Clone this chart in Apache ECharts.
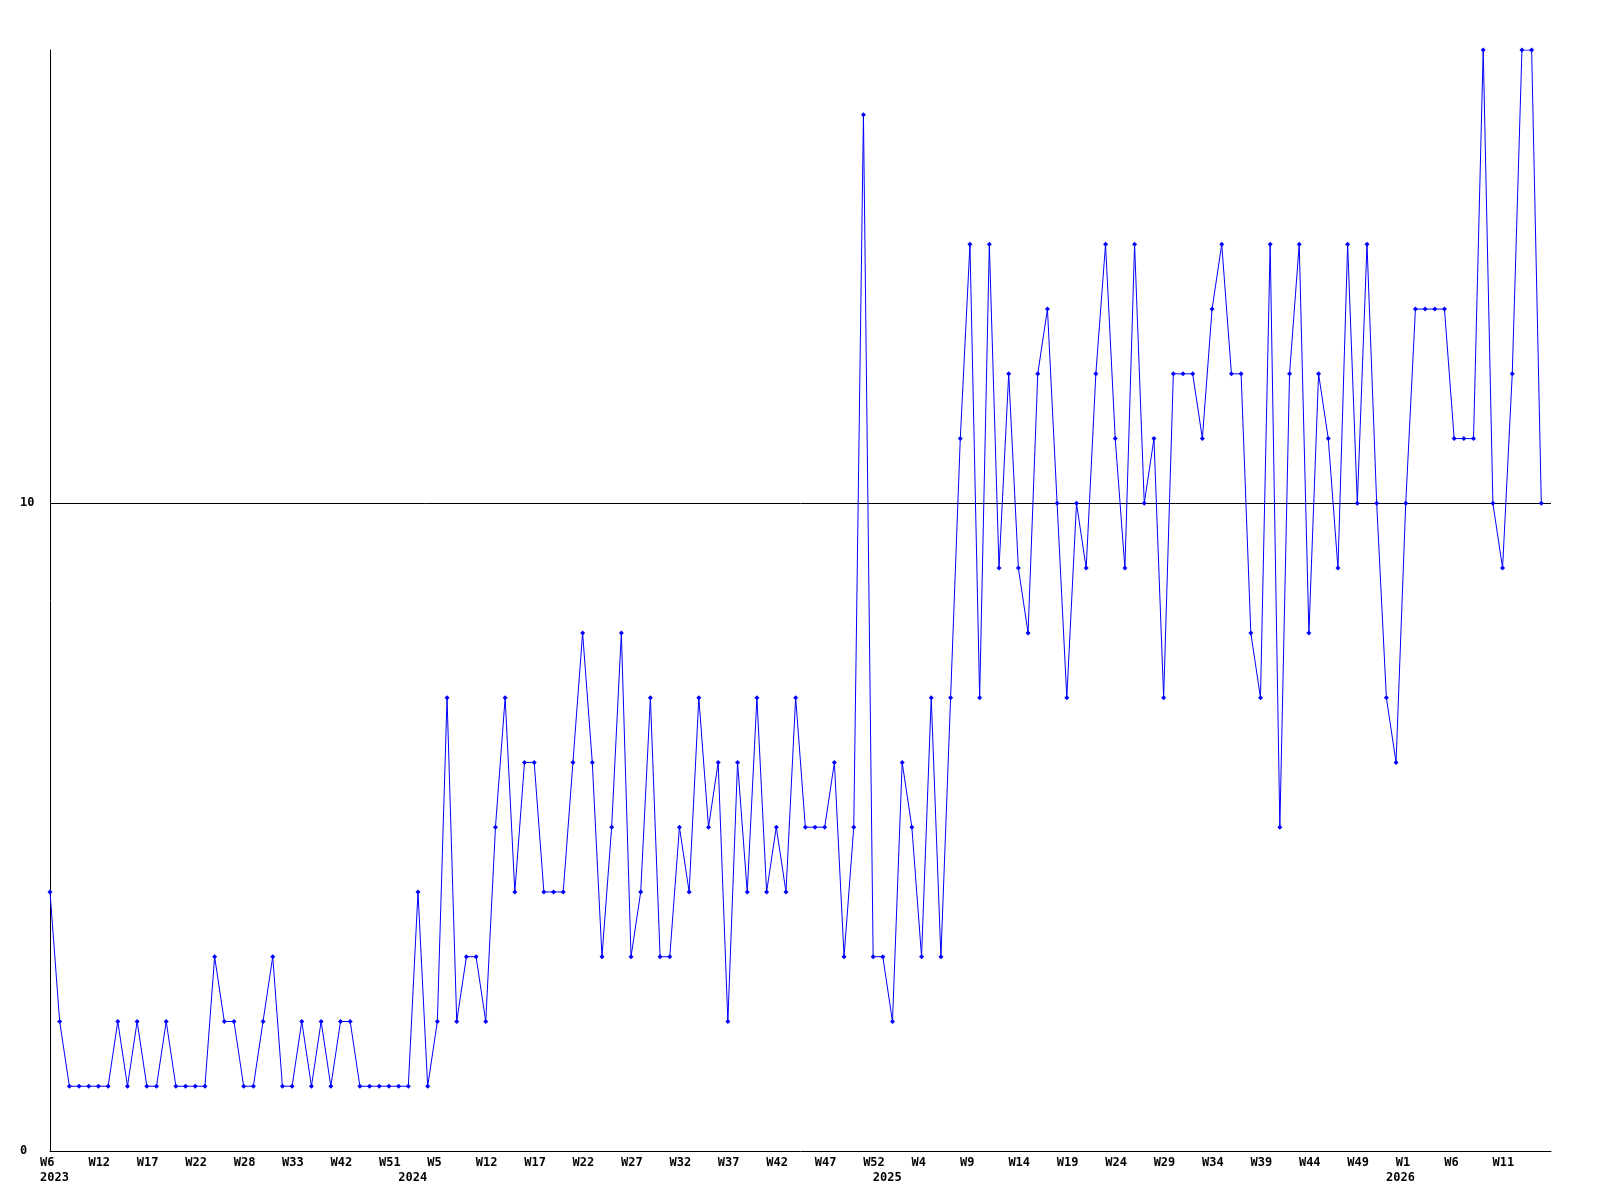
<!DOCTYPE html>
<html>
<head>
<meta charset="utf-8">
<script src="https://cdn.jsdelivr.net/npm/echarts@6/dist/echarts.min.js"></script>
<style>
  html, body { margin: 0; padding: 0; background: #ffffff; }
  #chart { width: 1600px; height: 1200px; }
</style>
</head>
<body>
<div id="chart"></div>
<script>
// Week label of each data point (one point per week, in order)
const weeks = [
  // 2023
  'W6','W7','W8','W9','W10','W12','W13','W14','W15','W16',
  'W17','W18','W19','W20','W21','W22','W23','W24','W25','W26',
  'W28','W29','W30','W31','W32','W33','W35','W37','W38','W40',
  'W42','W44','W46','W47','W49','W51','W52',
  // 2024
  'W0','W2','W3','W5','W7','W8','W9','W11','W12',
  'W13','W14','W15','W16','W17','W18','W19','W20','W21','W22',
  'W23','W24','W25','W26','W27','W28','W29','W30','W31','W32',
  'W33','W34','W35','W36','W37','W38','W39','W40','W41','W42',
  'W43','W44','W45','W46','W47','W48','W49','W50','W51','W52',
  // 2025
  'W0','W1','W2','W3','W4','W5','W6','W7','W8','W9',
  'W10','W11','W12','W13','W14','W15','W16','W17','W18','W19',
  'W20','W21','W22','W23','W24','W25','W26','W27','W28','W29',
  'W30','W31','W32','W33','W34','W35','W36','W37','W38','W39',
  'W40','W41','W42','W43','W44','W45','W46','W47','W48','W49',
  'W50','W51','W52',
  // 2026
  'W0','W1','W2','W3','W4','W5','W6','W7','W8','W9',
  'W10','W11','W12','W13','W14','W15'
];

// Weekly counts
const counts = [
  4,2,1,1,1,1,1,2,1,2,
  1,1,2,1,1,1,1,3,2,2,
  1,1,2,3,1,1,2,1,2,1,
  2,2,1,1,1,1,1,1,4,1,
  2,7,2,3,3,2,5,7,4,6,
  6,4,4,4,6,8,6,3,5,8,
  3,4,7,3,3,5,4,7,5,6,
  2,6,4,7,4,5,4,7,5,5,
  5,6,3,5,16,3,3,2,6,5,
  3,7,3,7,11,14,7,14,9,12,
  9,8,12,13,10,7,10,9,12,14,
  11,9,14,10,11,7,12,12,12,11,
  13,14,12,12,8,7,14,5,12,14,
  8,12,11,9,14,10,14,10,7,6,
  10,13,13,13,13,11,11,11,17,10,
  9,12,17,17,10
];

// First point of each year and its label
const yearStartIdx = [0, 37, 86, 139];
const yearLabels = ['2023', '2024', '2025', '2026'];

// Y-axis tick labels
const yTicks = [0, 10];
const refLine = 10;

const labelEvery = 5;

const weekTickIdx = [];
for (let i = 0; i < weeks.length; i += labelEvery) weekTickIdx.push(i);
const xLabelValues = weekTickIdx.concat(yearStartIdx.filter(v => weekTickIdx.indexOf(v) < 0)).sort((a, b) => a - b);

const seriesData = counts.map((v, i) => [i, v]);

const font = '"DejaVu Sans Mono", "Liberation Mono", monospace';

const chart = echarts.init(document.getElementById('chart'), null, { renderer: 'canvas' });
chart.setOption({
  backgroundColor: '#ffffff',
  animation: false,
  grid: { left: 50, right: 49, top: 50, bottom: 49, containLabel: false },
  xAxis: {
    type: 'value',
    min: 0,
    max: weeks.length,
    splitLine: { show: false },
    axisTick: { show: false },
    axisLine: { show: true, onZero: false, lineStyle: { color: '#000', width: 1 } },
    axisLabel: {
      customValues: xLabelValues,
      margin: 4,
      align: 'center',
      verticalAlign: 'top',
      formatter: function (value) {
        const wk = (value % labelEvery === 0) ? weeks[value] : ' ';
        const yi = yearStartIdx.indexOf(value);
        if (yi >= 0) return '{a|' + wk + '}\n{a|' + yearLabels[yi] + '}';
        return '{a|' + wk + '}';
      },
      rich: {
        a: {
          width: 20, align: 'left', color: '#000',
          fontFamily: font, fontSize: 12, fontWeight: 'bold', lineHeight: 15
        }
      }
    }
  },
  yAxis: {
    type: 'value',
    min: 0,
    max: 17,
    splitLine: { show: false },
    axisTick: { show: false },
    axisLine: { show: true, lineStyle: { color: '#000', width: 1 } },
    axisLabel: {
      customValues: yTicks,
      margin: 30,
      align: 'left',
      color: '#000',
      fontFamily: font,
      fontSize: 12,
      fontWeight: 'bold'
    }
  },
  series: [{
    type: 'line',
    data: seriesData,
    symbol: 'diamond',
    symbolSize: 5,
    showSymbol: true,
    showAllSymbol: true,
    itemStyle: { color: '#0000ff' },
    lineStyle: { color: '#0000ff', width: 1 },
    markLine: {
      silent: true,
      symbol: 'none',
      label: { show: false },
      lineStyle: { color: '#000', width: 1, type: 'solid' },
      data: [{ yAxis: refLine }],
      z: 1
    },
    z: 3
  }]
});
</script>
</body>
</html>
